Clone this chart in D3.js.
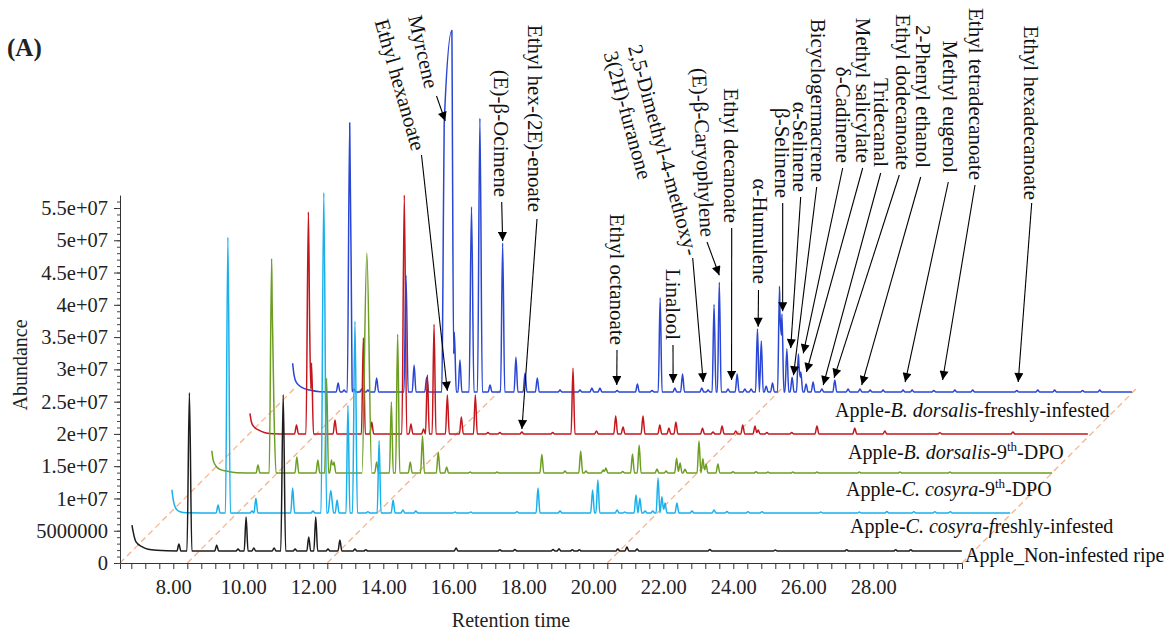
<!DOCTYPE html>
<html>
<head>
<meta charset="utf-8">
<script src="https://cdn.jsdelivr.net/npm/d3@7"></script>
<style>
  body { margin: 0; background: #fff; }
  svg { display: block; font-family: "Liberation Serif", "Times New Roman", serif; }
</style>
</head>
<body>
<svg id="chart" width="1175" height="634"></svg>
<script>
// ---------------- data ----------------
const MEGA = 1e6;                       // abundances below are in millions

const xTickValues = [8, 10, 12, 14, 16, 18, 20, 22, 24, 26, 28];
const xTickLabels = ["8.00", "10.00", "12.00", "14.00", "16.00", "18.00", "20.00", "22.00", "24.00", "26.00", "28.00"];
const yTickValues = [0, 5e6, 1e7, 1.5e7, 2e7, 2.5e7, 3e7, 3.5e7, 4e7, 4.5e7, 5e7, 5.5e7];
const yTickLabels = ["0", "5000000", "1e+07", "1.5e+07", "2e+07", "2.5e+07", "3e+07", "3.5e+07", "4e+07", "4.5e+07", "5e+07", "5.5e+07"];

// samples, front (0) to back (4)
const sampleColors = ["#1c1c1c", "#19b0ec", "#6c9e22", "#c4161c", "#2946d4"];
const sampleBaselines = [1.86, 1.55, 1.54, 1.39, 1.69];   // detector baseline, millions
const sampleEnds = [30.53, 30.71, 30.71, 30.53, 30.59];   // last scan, min

// solvent tail at the start of each run: [time, abundance]
const solventNonInfested = [[6.82, 4.0], [6.86, 2.8], [6.93, 1.45], [7.10, 0.67], [7.28, 0.26], [7.52, 0.1]];
const solventCcFresh     = [[6.76, 3.6], [6.80, 2.0], [6.87, 0.73], [6.99, 0.2], [7.18, 0.05]];
const solventCc9         = [[6.70, 3.45], [6.74, 2.0], [6.82, 1.08], [6.93, 0.57], [7.12, 0.3], [7.41, 0.05]];
const solventBd9         = [[6.59, 3.2], [6.63, 1.9], [6.70, 1.13], [6.83, 0.62], [7.02, 0.2], [7.26, 0.02]];
const solventBdFresh     = [[6.61, 4.45], [6.65, 2.63], [6.72, 1.44], [6.87, 0.73], [7.10, 0.3], [7.39, 0.05]];

// peaks: [retention time, height (millions), half width, right half width]
const peaksNonInfested = [
  [8.16, 1.08], [8.46, 24.5, 0.07], [9.24, 0.93], [9.85, 0.3], [10.08, 5.27], [10.30, 0.46],
  [10.88, 0.46], [11.14, 24.2, 0.07], [11.48, 0.3], [11.87, 2.17], [12.07, 5.27], [12.42, 0.3],
  [12.76, 1.7], [13.19, 0.3], [13.50, 0.2], [16.08, 0.45], [17.33, 0.2], [17.76, 0.25],
  [18.85, 0.25], [19.02, 0.36], [19.40, 0.2], [19.60, 0.2], [20.70, 0.3], [20.96, 0.6],
  [21.25, 0.3], [23.33, 0.25], [25.2, 0.15], [27.24, 0.2], [28.64, 0.2], [29.07, 0.2]
];
const peaksCcFresh = [
  [8.08, 1.24], [8.36, 42.7, 0.07], [9.05, 0.3], [9.16, 2.3], [10.21, 3.87], [10.79, 0.3],
  [11.10, 49.6, 0.08], [11.30, 3.5, 0.08], [11.48, 2.0], [11.79, 16.7], [11.99, 29.7, 0.07],
  [12.36, 0.2], [12.68, 11.2], [13.08, 2.0], [13.36, 0.46], [13.73, 0.3], [14.85, 0.15],
  [15.3, 0.15], [16.62, 0.2], [17.22, 3.87], [17.85, 0.3], [18.78, 3.56], [18.93, 5.1],
  [19.48, 0.46], [19.70, 0.15], [20.02, 2.8], [20.13, 2.3], [20.28, 0.3], [20.50, 0.3],
  [20.65, 5.4], [20.76, 2.5], [20.85, 1.55], [21.19, 1.55], [21.62, 0.3], [22.25, 0.46],
  [22.62, 0.23], [23.22, 0.2], [23.62, 0.2], [25.3, 0.15], [26.4, 0.15], [27.19, 0.23],
  [27.96, 0.2], [28.56, 0.2], [29.0, 0.2]
];
const peaksCc9 = [
  [8.02, 1.24], [8.41, 33.2, 0.07], [8.48, 8.7], [9.13, 2.48], [9.73, 2.0], [9.98, 14.7],
  [10.12, 2.0], [10.19, 1.7], [11.13, 34.1, 0.14], [11.41, 1.7], [11.83, 11.0], [12.01, 21.5, 0.06],
  [12.37, 1.7], [12.72, 5.73], [13.17, 3.25], [13.41, 0.93], [14.08, 0.15], [14.85, 0.15],
  [16.13, 2.87], [16.79, 0.3], [17.24, 3.4], [17.39, 0.3], [17.88, 0.46], [17.96, 0.77],
  [18.44, 0.23], [18.72, 2.94], [18.91, 4.34], [19.42, 0.62], [19.68, 0.3], [19.98, 2.3],
  [20.08, 1.55], [20.22, 0.6], [20.62, 4.95], [20.73, 2.2], [20.82, 1.4], [21.16, 1.4],
  [21.59, 0.2], [22.25, 0.2], [22.59, 0.15], [23.30, 0.15], [23.99, 0.15], [25.2, 0.15],
  [26.36, 0.15], [27.79, 0.15]
];
const peaksBd9 = [
  [7.92, 1.4], [8.26, 34.4, 0.07], [8.35, 11.0], [9.02, 2.17], [9.83, 14.9], [10.07, 1.86],
  [11.00, 37.0, 0.07], [11.19, 1.55], [11.55, 0.77], [11.66, 9.14], [11.85, 17.0], [12.23, 6.04],
  [12.63, 2.63], [13.03, 6.04], [13.39, 0.23], [13.73, 0.23], [14.36, 0.3], [15.24, 0.23],
  [15.82, 10.2], [16.49, 0.46], [17.04, 2.8], [17.25, 1.08], [17.82, 2.8], [18.30, 1.4],
  [18.56, 0.93], [18.76, 1.86], [19.52, 0.93], [19.82, 0.3], [20.08, 1.24], [20.47, 0.46],
  [20.67, 1.4], [21.02, 1.24], [21.11, 0.6], [21.36, 0.23], [22.07, 0.23], [22.79, 1.24],
  [23.87, 0.93], [24.73, 0.46], [26.30, 0.2], [28.39, 0.3]
];
const peaksBdFresh = [
  [7.91, 1.4], [8.08, 0.3], [8.24, 41.7, 0.07], [8.36, 0.46], [8.59, 0.46], [8.76, 0.3],
  [9.01, 2.17], [9.85, 18.1, 0.06], [10.08, 4.2], [10.44, 2.3],
  [10.94, 33.0, 0.07, 0.22], [11.16, 56.0, 0.26, 0.05], [11.23, 9.3],
  [11.39, 4.96], [11.72, 28.7, 0.07], [11.96, 42.4, 0.07], [12.25, 1.08], [12.61, 23.1, 0.06],
  [12.99, 5.4], [13.25, 2.94], [13.60, 2.17], [14.25, 0.3], [14.82, 0.3], [15.16, 0.62],
  [15.39, 0.62], [15.88, 0.23], [16.46, 1.24], [16.88, 0.23], [17.11, 14.6], [17.53, 0.62],
  [17.75, 2.8], [18.30, 0.62], [18.48, 0.3], [18.65, 13.6], [18.80, 17.0], [19.05, 0.46],
  [19.31, 2.8], [19.53, 0.46], [19.71, 0.46], [19.89, 9.76], [20.00, 7.9], [20.14, 0.93],
  [20.32, 1.4], [20.52, 16.4], [20.59, 12.1], [20.73, 6.66], [20.88, 2.3], [21.06, 5.9],
  [21.13, 3.1], [21.28, 1.24], [21.48, 1.55], [21.73, 0.46], [22.10, 1.86], [22.48, 0.46],
  [22.82, 0.46], [23.11, 0.3], [23.48, 0.3], [24.05, 0.3], [24.31, 0.3], [24.93, 0.23],
  [25.53, 0.3], [26.04, 0.3], [27.30, 0.23], [27.90, 0.3], [28.38, 0.3], [29.18, 0.23],
  [29.67, 0.3]
];

const sampleSolvent = [solventNonInfested, solventCcFresh, solventCc9, solventBd9, solventBdFresh];
const samplePeaks = [peaksNonInfested, peaksCcFresh, peaksCc9, peaksBd9, peaksBdFresh];

// identified compounds: trace index, retention time and abundance at the arrow tip
const compoundNames = [
  "Ethyl hexanoate", "Myrcene", "(E)-β-Ocimene", "Ethyl hex-(2E)-enoate", "Ethyl octanoate",
  "Linalool", ["2,5-Dimethyl-4-methoxy-", "3(2H)-furanone"], "(E)-β-Caryophylene",
  "Ethyl decanoate", "α-Humulene", "β-Selinene", "α-Selinene", "Bicyclogermacrene",
  "δ-Cadinene", "Methyl salicylate", "Tridecanal", "Ethyl dodecanoate", "2-Phenyl ethanol",
  "Methyl eugenol", "Ethyl tetradecanoate", "Ethyl hexadecanoate"
];
const compoundTrace = [3, 4, 4, 3, 4, 4, 4, 4, 4, 4, 4, 4, 4, 4, 4, 4, 4, 4, 4, 4, 4];
const compoundTime = [12.23, 10.97, 12.61, 14.36, 15.87, 17.48, 18.34, 18.80, 19.15, 19.91,
  20.61, 20.84, 20.92, 21.20, 21.29, 21.77, 22.08, 22.87, 24.11, 25.18, 27.34];
const compoundTip = [6.7, 42, 23.4, 0.77, 1.08, 1.4, 1.55, 18.1, 1.86, 10.1,
  12.5, 6.8, 2.6, 6.0, 3.1, 1.08, 2.2, 1.08, 1.55, 1.86, 1.55];

// ---------------- layout ----------------
const svg = d3.select("#chart");
const X0 = 120, X1 = 962, Y0 = 563;
const PX_PER_MIN = 35, PX_PER_MEGA = 355 / 55;
const X_STEP = 1.2;        // min shift between stacked runs
const Y_STEP = 6.2;        // million shift between stacked runs
const PEAK_W = 0.055;

const xScale = d3.scaleLinear()
  .domain([8 - (173.3 - X0) / PX_PER_MIN, 8 + (X1 - 173.3) / PX_PER_MIN])
  .range([X0, X1]);
const yScale = d3.scaleLinear()
  .domain([0, 57e6])
  .range([Y0, Y0 - 57 * PX_PER_MEGA]);

const ink = "#222";

// dashed perspective guides
const guideTimes = [xScale.domain()[0], 8.4, 12.4, 20.4, xScale.domain()[1]];
const guideLen = 176;
svg.append("g").selectAll("line").data(guideTimes).join("line")
  .attr("x1", d => xScale(d)).attr("y1", Y0)
  .attr("x2", d => xScale(d) + guideLen).attr("y2", Y0 - guideLen)
  .attr("stroke", "#f3b490").attr("stroke-width", 1.3)
  .attr("stroke-dasharray", "6,4");

// axes
const yAxis = d3.axisLeft(yScale).tickValues(yTickValues)
  .tickFormat((d, i) => yTickLabels[i]).tickSize(6).tickSizeOuter(0).tickPadding(6);
const gy = svg.append("g").attr("transform", `translate(${X0},0)`).call(yAxis);
gy.selectAll("text").attr("font-size", 20.5).attr("fill", ink)
  .attr("font-family", "'Liberation Serif','Times New Roman',serif");
gy.selectAll("path,line").attr("stroke", "#333");
svg.append("g").attr("transform", `translate(${X0},0)`)
  .call(d3.axisLeft(yScale).tickValues(d3.range(0, 57).map(k => k * MEGA)).tickSize(3).tickFormat(""))
  .call(g => g.select(".domain").remove())
  .selectAll("line").attr("stroke", "#444");

const minorTimes = d3.range(17, 77).map(k => k * 0.4);
const xAxis = d3.axisBottom(xScale).tickValues(minorTimes)
  .tickFormat(d => {
    const i = xTickValues.findIndex(v => Math.abs(v - d) < 1e-6);
    return i >= 0 ? xTickLabels[i] : "";
  })
  .tickSize(6).tickSizeOuter(6).tickPadding(10);
const gx = svg.append("g").attr("transform", `translate(0,${Y0})`).call(xAxis);
gx.selectAll("text").attr("font-size", 20.5).attr("fill", ink)
  .attr("font-family", "'Liberation Serif','Times New Roman',serif");
gx.selectAll("path,line").attr("stroke", "#333");

svg.append("text").attr("transform", "translate(27,365) rotate(-90)")
  .attr("text-anchor", "middle").attr("font-size", 20).attr("fill", ink).text("Abundance");
svg.append("text").attr("x", 511).attr("y", 627)
  .attr("text-anchor", "middle").attr("font-size", 20).attr("fill", ink).text("Retention time");
svg.append("text").attr("x", 7).attr("y", 56)
  .attr("font-size", 25).attr("font-weight", "bold").attr("fill", ink).text("(A)");

// chromatogram traces: solvent tail followed by triangular peaks summed at their breakpoints
function traceValues(solvent, peaks, end) {
  const tri = peaks.map(p => ({ t: p[0], h: p[1], wl: p[2] ?? PEAK_W, wr: p[3] ?? p[2] ?? PEAK_W }));
  const tailEnd = solvent[solvent.length - 1][0];
  const cuts = [];
  tri.forEach(p => cuts.push(p.t - p.wl, p.t, p.t + p.wr));
  cuts.push(end);
  const times = Array.from(new Set(cuts.map(t => +t.toFixed(4))))
    .filter(t => t > tailEnd && t <= end).sort((a, b) => a - b);
  const valueAt = t => d3.sum(tri, p => t <= p.t
    ? Math.max(0, p.h * (1 - (p.t - t) / p.wl))
    : Math.max(0, p.h * (1 - (t - p.t) / p.wr)));
  return solvent.map(d => ({ t: d[0], v: d[1] })).concat(times.map(t => ({ t, v: valueAt(t) })));
}

const traces = samplePeaks.map((peaks, i) => traceValues(sampleSolvent[i], peaks, sampleEnds[i]));
const plotX = (t, i) => xScale(t + i * X_STEP);
const plotY = (v, i) => yScale((sampleBaselines[i] + i * Y_STEP + v) * MEGA);

const gTraces = svg.append("g");
for (let i = traces.length - 1; i >= 0; i--) {
  const line = d3.line().x(d => plotX(d.t, i)).y(d => plotY(d.v, i)).curve(d3.curveMonotoneX);
  gTraces.append("path").datum(traces[i]).attr("d", line)
    .attr("fill", "none").attr("stroke", sampleColors[i]).attr("stroke-width", 1.5)
    .attr("stroke-linejoin", "round");
}

// sample names
const sampleLabelPos = [[965, 562], [850, 533], [846, 496], [848, 459], [835, 417]];
const sampleLabelParts = [
  [["Apple_Non-infested ripe", ""]],
  [["Apple-", ""], ["C. cosyra-f", "i"], ["reshly-infested", ""]],
  [["Apple-", ""], ["C. cosyra", "i"], ["-9", ""], ["th", "s"], ["-DPO", ""]],
  [["Apple-", ""], ["B. dorsalis", "i"], ["-9", ""], ["th", "s"], ["-DPO", ""]],
  [["Apple-", ""], ["B. dorsalis", "i"], ["-freshly-infested", ""]]
];
sampleLabelParts.forEach((parts, i) => {
  const t = svg.append("text").attr("x", sampleLabelPos[i][0]).attr("y", sampleLabelPos[i][1])
    .attr("font-size", 20).attr("fill", "#111");
  let raised = false;
  parts.forEach(([s, k]) => {
    const sp = t.append("tspan").text(s);
    if (k === "i") sp.attr("font-style", "italic");
    if (k === "s") { sp.attr("font-size", 13).attr("dy", -8); raised = true; }
    else if (raised) { sp.attr("dy", 8); raised = false; }
  });
});

// compound annotations: [text x, text y, angle, anchor], leader start [x, y]
const labelPos = [
  [419, 150, 74, "end"], [432, 88, 77, "end"], [501.7, 197, 90, "end"], [535, 212, 90, "end"],
  [617, 345, 90, "end"], [673, 340, 90, "end"], [635, 45, 74.7, "start"], [708, 237, 87, "end"],
  [731.7, 223, 90, "end"], [760, 284, 90, "end"], [782.7, 198, 90, "end"], [800, 192, 90, "end"],
  [818, 182, 90, "end"], [843.3, 163, 90, "end"], [863.3, 163, 90, "end"], [881.7, 167, 90, "end"],
  [903, 170, 90, "end"], [923.3, 168, 90, "end"], [950, 173, 90, "end"], [976.7, 180, 90, "end"],
  [1031.7, 200, 90, "end"]
];
const leaderStart = [
  [421.5, 155], [436.5, 96], [501.7, 202], [537, 219], [617, 350], [673, 345], [692.7, 258],
  [707, 242], [731.7, 228], [758.5, 290], [782.7, 203], [800.7, 197], [816.7, 187], [842.7, 168],
  [862.7, 168], [880.7, 173], [899.3, 175], [920.7, 177], [948.3, 182], [975, 185], [1031.7, 203]
];

const defs = svg.append("defs");
defs.append("marker").attr("id", "head").attr("viewBox", "0 0 10 10")
  .attr("refX", 10).attr("refY", 5).attr("markerWidth", 10).attr("markerHeight", 9)
  .attr("markerUnits", "userSpaceOnUse").attr("orient", "auto")
  .append("path").attr("d", "M0,0L10,5L0,10z").attr("fill", "#000");

const gAnno = svg.append("g");
compoundNames.forEach((name, k) => {
  const [tx, ty, ang, anchor] = labelPos[k];
  const txt = gAnno.append("text").attr("transform", `translate(${tx},${ty}) rotate(${ang})`)
    .attr("text-anchor", anchor).attr("font-size", 21).attr("fill", "#111");
  if (Array.isArray(name)) {
    name.forEach((s, j) => txt.append("tspan").attr("x", 0).attr("dy", j === 0 ? "0.35em" : "1.2em").text(s));
  } else {
    txt.attr("dy", "0.35em").text(name);
  }
  const i = compoundTrace[k];
  gAnno.append("line")
    .attr("x1", leaderStart[k][0]).attr("y1", leaderStart[k][1])
    .attr("x2", plotX(compoundTime[k], i)).attr("y2", plotY(compoundTip[k], i))
    .attr("stroke", "#000").attr("stroke-width", 1.1).attr("marker-end", "url(#head)");
});
</script>
</body>
</html>
